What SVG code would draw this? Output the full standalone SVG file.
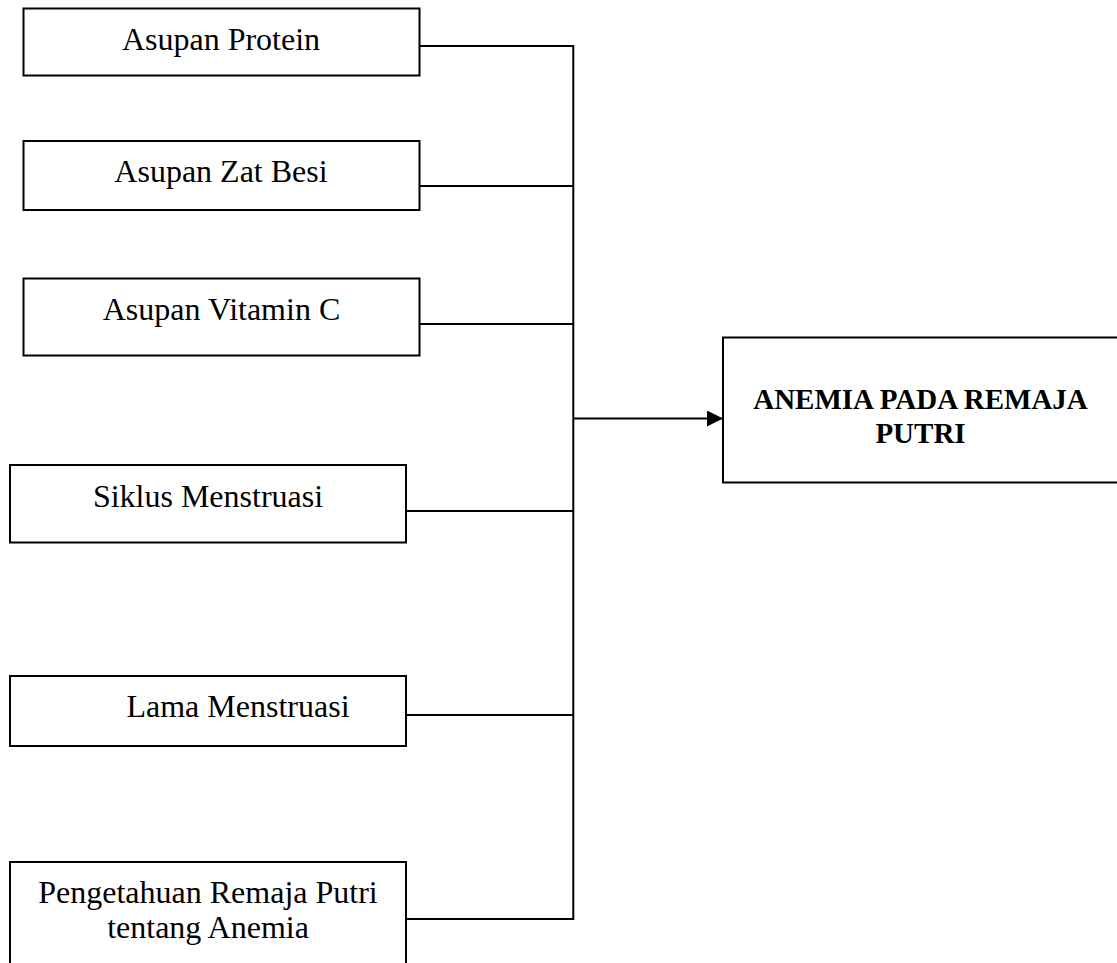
<svg xmlns="http://www.w3.org/2000/svg" width="1117" height="963" viewBox="0 0 1117 963">
<style>
.box{fill:#fff;stroke:#000;stroke-width:2}
.t{font-family:"Liberation Serif","Times New Roman",serif;font-size:32px;fill:#000;text-anchor:middle}
.b{font-family:"Liberation Serif","Times New Roman",serif;font-size:29px;font-weight:bold;fill:#000;text-anchor:middle}
.c{fill:none;stroke:#000;stroke-width:2}
</style>
<defs>
<marker id="arr" markerWidth="16" markerHeight="16" refX="15" refY="8" orient="auto" markerUnits="userSpaceOnUse">
<path d="M0,0 L16,8 L0,16 Z" fill="#000"/>
</marker>
</defs>
<rect width="1117" height="963" fill="#fff"/>
<g id="n1"><rect class="box" x="23.5" y="8.5" width="396" height="67"/><text class="t" x="221" y="50">Asupan Protein</text></g>
<g id="n2"><rect class="box" x="23.5" y="141" width="396" height="69"/><text class="t" x="221" y="182">Asupan Zat Besi</text></g>
<g id="n3"><rect class="box" x="23.5" y="278.5" width="396" height="77"/><text class="t" x="221.5" y="320">Asupan Vitamin C</text></g>
<g id="n4"><rect class="box" x="10" y="465" width="396" height="77.5"/><text class="t" x="208" y="507">Siklus Menstruasi</text></g>
<g id="n5"><rect class="box" x="10" y="676" width="396" height="70"/><text class="t" x="238" y="717">Lama Menstruasi</text></g>
<g id="n6"><rect class="box" x="10" y="862" width="396" height="110"/><text class="t" x="208" y="903">Pengetahuan Remaja Putri</text><text class="t" x="208" y="938">tentang Anemia</text></g>
<g id="n7"><rect class="box" x="723" y="337.5" width="400" height="145"/><text class="b" x="920.5" y="409">ANEMIA PADA REMAJA</text><text class="b" x="920.5" y="443">PUTRI</text></g>
<g id="connectors">
<path class="c" d="M419.5,46 H573.3 V919 H406"/>
<path class="c" d="M419.5,186 H573.3"/>
<path class="c" d="M419.5,324 H573.3"/>
<path class="c" d="M406,511 H573.3"/>
<path class="c" d="M406,715 H573.3"/>
<path class="c" d="M573.3,418.5 H722" marker-end="url(#arr)"/>
</g>
</svg>
